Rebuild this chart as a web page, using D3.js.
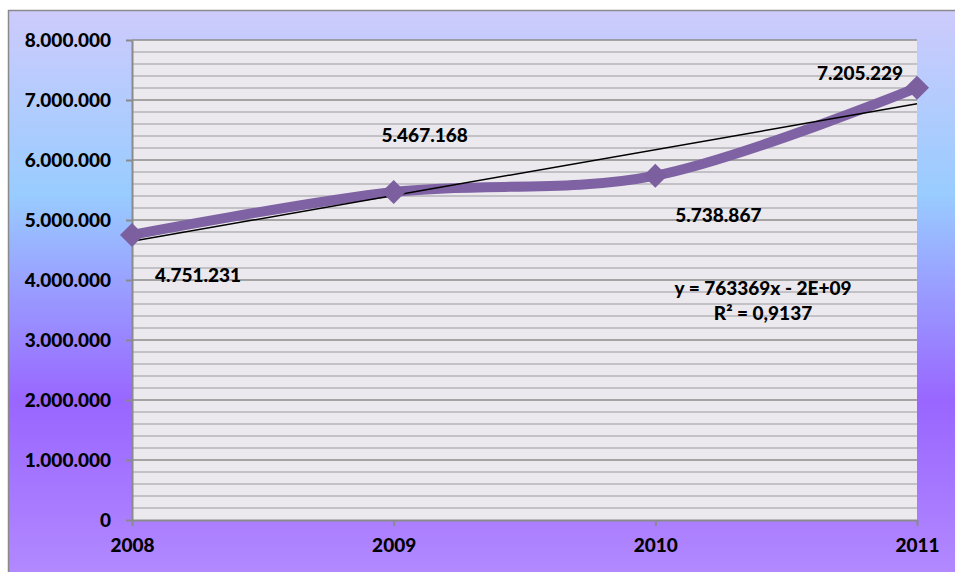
<!DOCTYPE html>
<html>
<head>
<meta charset="utf-8">
<script src="https://cdn.jsdelivr.net/npm/d3@7"></script>
<style>
  body { margin: 0; background: #fff; }
  svg text { font-family: Lato, "Open Sans", sans-serif; font-weight: 900; fill: #000; }
</style>
</head>
<body>
<svg id="chart" width="955" height="572"></svg>
<script>
// data
const years = [2008, 2009, 2010, 2011];
const values = [4751231, 5467168, 5738867, 7205229];
const yTicks = [0, 1000000, 2000000, 3000000, 4000000, 5000000, 6000000, 7000000, 8000000];

// label offsets from each point (px)
const labelOffsets = [[66, 40], [31, -57], [63, 39], [-57, -15]];

const svg = d3.select("#chart");
const plot = {left: 132, top: 40, right: 917, bottom: 520};

// background gradient
const defs = svg.append("defs");
const grad = defs.append("linearGradient").attr("id", "bg")
    .attr("x1", 0).attr("y1", 0).attr("x2", 0).attr("y2", 1);
grad.append("stop").attr("offset", "0%").attr("stop-color", "#cdcbfc");
grad.append("stop").attr("offset", "32%").attr("stop-color", "#99ccff");
grad.append("stop").attr("offset", "68%").attr("stop-color", "#9966ff");
grad.append("stop").attr("offset", "100%").attr("stop-color", "#b48bff");

svg.append("rect")
    .attr("x", 8.5).attr("y", 10.5)
    .attr("width", 960).attr("height", 575)
    .attr("fill", "url(#bg)")
    .attr("stroke", "#8a8a8a").attr("stroke-width", 1.5);

const x = d3.scaleLinear().domain([2008, 2011]).range([plot.left, plot.right]);
const y = d3.scaleLinear().domain([0, 8000000]).range([plot.bottom, plot.top]);

// plot area
svg.append("rect")
    .attr("x", plot.left).attr("y", plot.top)
    .attr("width", plot.right - plot.left).attr("height", plot.bottom - plot.top)
    .attr("fill", "#ebe9ee");

// minor gridlines
const minor = d3.range(200000, 8000000, 200000).filter(v => v % 1000000 !== 0);
svg.append("g").selectAll("line").data(minor).join("line")
    .attr("x1", plot.left).attr("x2", plot.right)
    .attr("y1", d => y(d)).attr("y2", d => y(d))
    .attr("stroke", "#b5b3b7").attr("stroke-width", 1.6);

// major gridlines
svg.append("g").selectAll("line").data(yTicks.slice(1)).join("line")
    .attr("x1", plot.left).attr("x2", plot.right)
    .attr("y1", d => y(d)).attr("y2", d => y(d))
    .attr("stroke", "#8c8c8c").attr("stroke-width", 1.6);

// y axis
const fmt = v => v === 0 ? "0" : d3.format(",")(v).replace(/,/g, ".");
const yAxis = svg.append("g")
    .attr("transform", "translate(" + plot.left + ",0)")
    .call(d3.axisLeft(y).tickValues(yTicks).tickFormat(fmt).tickSizeInner(6).tickSizeOuter(0).tickPadding(15));
yAxis.select(".domain").attr("stroke", "#8a8a8a").attr("stroke-width", 2);
yAxis.selectAll(".tick line").attr("stroke", "#8a8a8a").attr("stroke-width", 2);
yAxis.selectAll("text").style("font-size", "19px").attr("fill", "#000");

// x axis
const xAxis = svg.append("g")
    .attr("transform", "translate(0," + plot.bottom + ")")
    .call(d3.axisBottom(x).tickValues(years).tickFormat(d3.format("d")).tickSizeInner(6).tickSizeOuter(0).tickPadding(13));
xAxis.select(".domain").attr("stroke", "#8a8a8a").attr("stroke-width", 2);
xAxis.selectAll(".tick line").attr("stroke", "#8a8a8a").attr("stroke-width", 2);
xAxis.selectAll("text").style("font-size", "19px").attr("fill", "#000");

// series line (smoothed)
const pts = years.map((yr, i) => [yr, values[i]]);
const line = d3.line().x(d => x(d[0])).y(d => y(d[1])).curve(d3.curveCardinal.tension(0));
svg.append("path")
    .datum(pts)
    .attr("d", line)
    .attr("fill", "none")
    .attr("stroke", "#7f62a3")
    .attr("stroke-width", 10)
    .attr("stroke-linejoin", "round");

// linear trendline
const mx = d3.mean(years), my = d3.mean(values);
const slope = d3.sum(years, (yr, i) => (yr - mx) * (values[i] - my)) / d3.sum(years, yr => (yr - mx) ** 2);
const intercept = my - slope * mx;
svg.append("line")
    .attr("x1", x(2008)).attr("y1", y(slope * 2008 + intercept))
    .attr("x2", x(2011)).attr("y2", y(slope * 2011 + intercept))
    .attr("stroke", "#000").attr("stroke-width", 1.5);

// markers
svg.append("g").selectAll("path").data(pts).join("path")
    .attr("transform", d => "translate(" + x(d[0]) + "," + y(d[1]) + ")")
    .attr("d", "M0,-12L12,0L0,12L-12,0Z")
    .attr("fill", "#7b5f9f");

// data labels
svg.append("g").selectAll("text").data(pts).join("text")
    .attr("x", (d, i) => x(d[0]) + labelOffsets[i][0])
    .attr("y", (d, i) => y(d[1]) + labelOffsets[i][1])
    .attr("text-anchor", "middle")
    .attr("dominant-baseline", "central")
    .style("font-size", "19px")
    .text(d => fmt(d[1]));

// equation
const eq = svg.append("g").attr("transform", "translate(763,0)");
eq.append("text").attr("y", 287).attr("text-anchor", "middle").attr("dominant-baseline", "central")
    .style("font-size", "19px").text("y = 763369x - 2E+09");
eq.append("text").attr("y", 312).attr("text-anchor", "middle").attr("dominant-baseline", "central")
    .style("font-size", "19px").text("R² = 0,9137");
</script>
</body>
</html>
